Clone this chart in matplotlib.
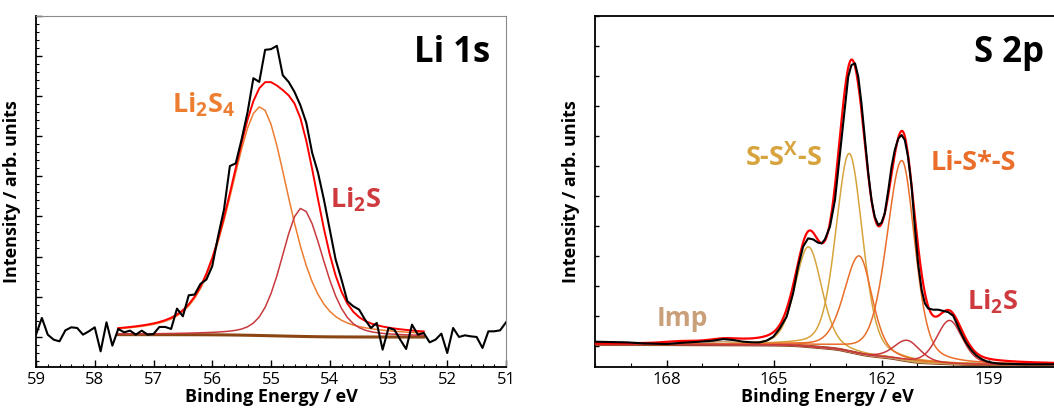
import numpy as np
import matplotlib
matplotlib.use('Agg')
from matplotlib import pyplot as plt
from matplotlib.ticker import MultipleLocator, NullFormatter

plt.rcParams['font.family'] = ['Open Sans', 'DejaVu Sans']
plt.rcParams['mathtext.fontset'] = 'custom'
plt.rcParams['mathtext.rm'] = 'Open Sans'
plt.rcParams['mathtext.bf'] = 'Open Sans:bold'

colors = {'data': 'black', 'envelope': '#ff0000', 'bg': '#8b4513', 'li2s4': '#ed7d31',
          'li2s': '#c8393e', 'li2s_lbl': '#cf3a3e', 'sss': '#d6a33c', 'lis': '#ea6e2a', 'imp': '#c9a07a'}

# ---- Li 1s: measured spectrum (0.1 eV steps, 59 -> 51 eV)
li_energy = np.round(np.arange(59.0, 50.95, -0.1), 2)
li_counts = [0.05, 0.467, 0.05, -0.075, -0.117, 0.158, 0.233, 0.217, 0.05, 0.133,
             0.233, -0.367, 0.358, -0.225, 0.192, 0.108, 0.15, 0.05, 0.15, 0.05,
             0.067, 0.242, 0.242, 0.192, 0.7, 0.508, 1.033, 1.05, 1.317, 1.425,
             1.758, 2.508, 3.175, 4.258, 4.325, 4.925, 5.592, 6.45, 6.358, 7.158,
             7.175, 7.258, 6.525, 6.358, 6.108, 5.775, 5.342, 4.592, 4.092, 3.425,
             2.675, 1.925, 1.425, 0.883, 0.758, 0.675, 0.425, 0.217, 0.342, -0.325,
             0.217, 0.175, -0.075, -0.308, 0.3, 0.05, 0.092, -0.142, -0.075, 0.075,
             -0.408, 0.217, -0.008, 0.033, 0.008, -0.008, -0.283, 0.133, 0.133, 0.158,
             0.358]

# Li 1s fit: range, Shirley end points, peaks (center, height, high-BE/low-BE FWHM, lorentz share)
li_fit_range = (57.6, 52.4)
li_bg_ends = (0.05, -0.01)
li_peak_names = ['Li2S4', 'Li2S']
li_peak_center = [55.18, 54.48]
li_peak_height = [5.71, 3.20]
li_peak_fwhm_left = [1.24, 0.80]
li_peak_fwhm_right = [1.15, 0.88]
li_peak_eta = [0.42, 0.3]

# ---- S 2p: measured spectrum
s_energy = [170.0, 169.1, 168.65, 168.0, 167.53, 167.07, 166.7, 166.42, 166.14, 165.86,
            165.58, 165.4, 165.21, 165.02, 164.84, 164.65, 164.47, 164.33, 164.19, 164.05,
            163.91, 163.77, 163.67, 163.58, 163.44, 163.3, 163.16, 163.02, 162.93, 162.84,
            162.74, 162.65, 162.56, 162.47, 162.37, 162.28, 162.19, 162.09, 162.0, 161.91,
            161.81, 161.72, 161.63, 161.53, 161.44, 161.35, 161.26, 161.16, 161.07, 160.98,
            160.88, 160.79, 160.7, 160.56, 160.42, 160.28, 160.14, 160.0, 159.9, 159.81,
            159.72, 159.63, 159.5, 159.35, 159.2, 159.07, 158.9, 158.7, 157.95, 157.0]
s_counts = [0.133, 0.111, 0.078, 0.056, 0.1, 0.133, 0.167, 0.222, 0.189, 0.133,
            0.111, 0.111, 0.167, 0.3, 0.578, 0.967, 1.744, 2.633, 3.3, 3.578,
            3.544, 3.433, 3.411, 3.544, 3.967, 4.856, 6.411, 7.967, 8.967, 9.356,
            9.411, 8.967, 8.078, 6.967, 5.744, 4.856, 4.3, 4.022, 4.1, 4.411,
            5.189, 5.967, 6.522, 6.911, 7.022, 6.856, 6.3, 5.3, 3.967, 2.744,
            1.856, 1.411, 1.244, 1.2, 1.2, 1.16, 1.12, 1.0, 0.74, 0.5,
            0.28, 0.08, -0.14, -0.33, -0.45, -0.52, -0.57, -0.6, -0.62, -0.62]

# S 2p fit: doublets (2p3/2, 2p1/2)
s_bg_ends = (0.045, -0.63)
s_groups = ['Imp', 'S-Sx-S', 'Li-S*-S', 'Li2S']
s_group_center = [[166.40, 167.58], [162.90, 164.04], [161.43, 162.62], [160.10, 161.28]]
s_group_height = [[0.10, 0.05], [6.60, 3.32], [6.64, 3.26], [1.44, 0.68]]
s_group_fwhm_left = [1.0, 0.88, 1.0, 0.85]
s_group_fwhm_right = [1.0, 0.88, 0.85, 0.85]
s_group_eta = [0.3, 0.3, 0.35, 0.3]
s_group_color = [colors['imp'], colors['sss'], colors['lis'], colors['li2s']]


def pseudo_voigt(x, center, height, fwhm_l, fwhm_r, eta):
    # "left" = higher binding energy side as drawn
    hw = np.where(x >= center, fwhm_l, fwhm_r) / 2.0
    r2 = ((x - center) / hw) ** 2
    return height * ((1 - eta) * np.exp(-np.log(2) * r2) + eta / (1 + r2))


def shirley(x, peaks_sum, hi, lo):
    # x ascending; background climbs from lo (low BE) to hi (high BE) with peak area
    cum = np.cumsum(peaks_sum)
    return lo + (hi - lo) * cum / cum[-1]


fig = plt.figure(figsize=(10.54, 4.12), dpi=100)
ax1 = fig.add_axes([36 / 1054, 45.3 / 412, 470 / 1054, 351 / 412])
ax2 = fig.add_axes([595 / 1054, 45.3 / 412, 465.6 / 1054, 351 / 412])

# ---------------- Li 1s
x_li = np.round(np.arange(li_fit_range[1], li_fit_range[0] + 0.001, 0.1), 2)
li_comps = [pseudo_voigt(x_li, c, h, fl, fr, e) for c, h, fl, fr, e in
            zip(li_peak_center, li_peak_height, li_peak_fwhm_left, li_peak_fwhm_right, li_peak_eta)]
li_bg = shirley(x_li, sum(li_comps), *li_bg_ends)

ax1.plot(x_li, li_comps[0] + li_bg, color=colors['li2s4'], lw=1.1, zorder=3)
ax1.plot(x_li, li_comps[1] + li_bg, color=colors['li2s'], lw=1.1, zorder=3)
ax1.plot(x_li, sum(li_comps) + li_bg, color=colors['envelope'], lw=1.4, zorder=4)
ax1.plot(x_li, li_bg, color=colors['bg'], lw=2.2, zorder=2)
ax1.plot(li_energy, li_counts, color=colors['data'], lw=1.5, zorder=5)

ax1.set_xlim(59, 51)
ax1.set_ylim(-0.75, 8.01)
ax1.xaxis.set_major_locator(MultipleLocator(1))
ax1.xaxis.set_minor_locator(MultipleLocator(0.2))
ax1.yaxis.set_major_locator(MultipleLocator(1))
ax1.yaxis.set_minor_locator(MultipleLocator(0.2))
ax1.tick_params(which='major', direction='in', length=5, width=1, labelsize=12, pad=4)
ax1.tick_params(which='minor', direction='in', length=2.5, width=0.8)
ax1.tick_params(axis='y', which='major', length=4)
ax1.yaxis.set_major_formatter(NullFormatter())
for side in ['top', 'right']:
    ax1.spines[side].set_color('#8a8a8a')
for side in ['left', 'bottom']:
    ax1.spines[side].set_linewidth(1.3)
ax1.set_xlabel('Binding Energy / eV', fontsize=13, fontweight='bold', labelpad=0)
ax1.set_ylabel('Intensity / arb. units', fontsize=13, fontweight='bold', labelpad=7)

ax1.text(0.966, 0.869, 'Li 1s', transform=ax1.transAxes, ha='right', va='baseline',
         fontsize=25, fontweight='bold')
ax1.text(0.29, 0.724, r'Li$_\mathbf{2}$S$_\mathbf{4}$', transform=ax1.transAxes, va='baseline',
         fontsize=19.5, fontweight='bold', color=colors['li2s4'])
ax1.text(0.626, 0.453, r'Li$_\mathbf{2}$S', transform=ax1.transAxes, va='baseline',
         fontsize=19.5, fontweight='bold', color=colors['li2s_lbl'])

# ---------------- S 2p
x_s = np.arange(157.0, 170.001, 0.02)
s_comps = []
for centers, heights, fl, fr, eta in zip(s_group_center, s_group_height, s_group_fwhm_left,
                                        s_group_fwhm_right, s_group_eta):
    s_comps.append([pseudo_voigt(x_s, c, h, fl, fr, eta) for c, h in zip(centers, heights)])
s_total = sum(sum(group) for group in s_comps)
s_bg = shirley(x_s, s_total, *s_bg_ends)

for group, col in zip(s_comps, s_group_color):
    for comp in group:
        ax2.plot(x_s, comp + s_bg, color=col, lw=1.1, zorder=3)
ax2.plot(x_s, s_total + s_bg, color=colors['envelope'], lw=1.6, zorder=4)
ax2.plot(x_s, s_bg, color=colors['bg'], lw=2.4, zorder=2)
ax2.plot(s_energy, s_counts, color=colors['data'], lw=1.5, zorder=5)

ax2.set_xlim(170, 157)
ax2.set_ylim(-0.7, 11.0)
ax2.xaxis.set_major_locator(MultipleLocator(3))
ax2.xaxis.set_minor_locator(MultipleLocator(1))
ax2.yaxis.set_major_locator(MultipleLocator(1))
ax2.tick_params(which='major', direction='in', length=5, width=1, labelsize=12, pad=4)
ax2.tick_params(which='minor', direction='in', length=3, width=0.8)
ax2.tick_params(axis='y', which='major', length=3)
ax2.yaxis.set_major_formatter(NullFormatter())
for side in ['left', 'bottom', 'top']:
    ax2.spines[side].set_linewidth(1.3)
ax2.set_xlabel('Binding Energy / eV', fontsize=13, fontweight='bold', labelpad=0)
ax2.set_ylabel('Intensity / arb. units', fontsize=13, fontweight='bold', labelpad=7)

ax2.text(0.814, 0.869, 'S 2p', transform=ax2.transAxes, va='baseline', fontsize=25, fontweight='bold')
ax2.text(0.323, 0.571, r'S-S$^\mathbf{X}$-S', transform=ax2.transAxes, va='baseline',
         fontsize=19.5, fontweight='bold', color=colors['sss'])
ax2.text(0.720, 0.559, 'Li-S*-S', transform=ax2.transAxes, va='baseline',
         fontsize=19.5, fontweight='bold', color=colors['lis'])
ax2.text(0.799, 0.162, r'Li$_\mathbf{2}$S', transform=ax2.transAxes, va='baseline',
         fontsize=19.5, fontweight='bold', color=colors['li2s_lbl'])
ax2.text(0.132, 0.115, 'Imp', transform=ax2.transAxes, va='baseline',
         fontsize=19, fontweight='bold', color=colors['imp'])

fig.savefig('out.png', dpi=100)
